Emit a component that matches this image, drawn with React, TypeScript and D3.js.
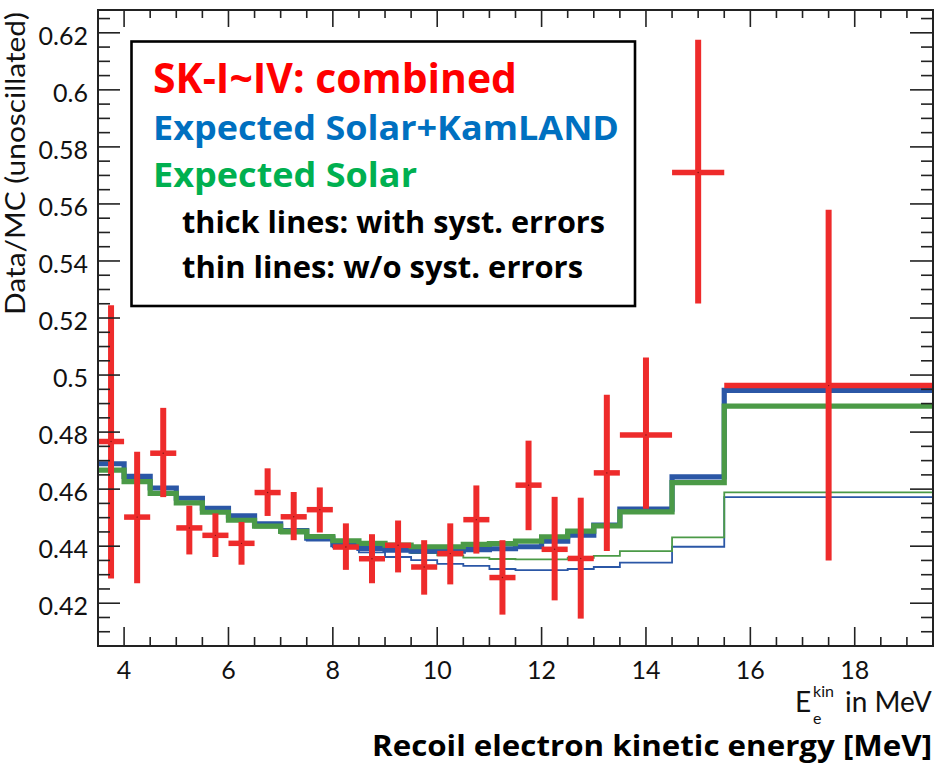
import React from 'react';
import * as d3 from 'd3';

// Energy bin edges (MeV): 0.5 MeV bins up to 13.5, then 1 MeV bins and one wide bin
const binEdges = [3.5, 4, 4.5, 5, 5.5, 6, 6.5, 7, 7.5, 8, 8.5, 9, 9.5, 10, 10.5, 11, 11.5, 12, 12.5, 13, 13.5, 14.5, 15.5, 19.5];

// SK-I~IV combined Data/MC ratio with total uncertainty range
const dataValue = [0.4767, 0.4502, 0.4726, 0.4464, 0.4438, 0.4410, 0.4588, 0.4503, 0.4528, 0.4397, 0.4356, 0.4403, 0.4327, 0.4374, 0.4493, 0.4290, 0.4614, 0.4389, 0.4357, 0.4657, 0.4790, 0.5710, 0.4963];
const dataHigh = [0.5245, 0.4731, 0.4885, 0.4542, 0.4515, 0.4485, 0.4673, 0.4590, 0.4606, 0.4480, 0.4442, 0.4490, 0.4421, 0.4480, 0.4613, 0.4421, 0.4770, 0.4573, 0.4570, 0.4931, 0.5062, 0.6176, 0.5580];
const dataLow = [0.4287, 0.4270, 0.4572, 0.4371, 0.4362, 0.4335, 0.4506, 0.4421, 0.4448, 0.4317, 0.4270, 0.4308, 0.4230, 0.4266, 0.4374, 0.4160, 0.4456, 0.4210, 0.4146, 0.4383, 0.4531, 0.5251, 0.4350];

// Expected spectra, with energy-correlated systematic errors (thick)
const solarKamlandSyst = [0.4689, 0.4645, 0.4604, 0.4568, 0.4533, 0.4506, 0.4478, 0.4455, 0.4428, 0.4405, 0.4392, 0.4386, 0.4383, 0.4383, 0.4388, 0.4391, 0.4398, 0.4418, 0.4439, 0.4474, 0.4530, 0.4643, 0.4946];
const solarSyst = [0.4667, 0.4626, 0.4585, 0.4552, 0.4519, 0.4491, 0.4470, 0.4452, 0.4434, 0.4419, 0.4410, 0.4404, 0.4398, 0.4398, 0.4406, 0.4409, 0.4418, 0.4433, 0.4453, 0.4471, 0.4520, 0.4623, 0.4891];

// Expected spectra without systematic errors (thin)
const solarKamlandStat = [0.4689, 0.4645, 0.4603, 0.4566, 0.4530, 0.4502, 0.4473, 0.4446, 0.4420, 0.4396, 0.4378, 0.4362, 0.4351, 0.4338, 0.4331, 0.4320, 0.4316, 0.4316, 0.4320, 0.4327, 0.4342, 0.4398, 0.4572];
const solarStat = [0.4667, 0.4626, 0.4585, 0.4550, 0.4517, 0.4488, 0.4465, 0.4444, 0.4425, 0.4408, 0.4395, 0.4385, 0.4376, 0.4368, 0.4360, 0.4355, 0.4354, 0.4354, 0.4359, 0.4366, 0.4383, 0.4431, 0.4589];

const xTickValues = [4, 6, 8, 10, 12, 14, 16, 18];
const yTickValues = [0.42, 0.44, 0.46, 0.48, 0.5, 0.52, 0.54, 0.56, 0.58, 0.6, 0.62];

const legendTexts = ['SK-I~IV: combined', 'Expected Solar+KamLAND', 'Expected Solar', 'thick lines: with syst. errors', 'thin lines: w/o syst. errors'];
const legendColors = ['#ff0000', '#0070c0', '#00b050', '#000000', '#000000'];

const RED = '#ee2b2b';
const BLUE = '#2b57a6';
const GREEN = '#4b9a47';
const FONT = 'Lato, "Open Sans", sans-serif';
const BOLD_FONT = '"Open Sans", Lato, sans-serif';

export default function App() {
  const left = 98, right = 933, top = 10, bottom = 646;
  const x = d3.scaleLinear().domain([3.5, 19.5]).range([left, right]);
  const y = d3.scaleLinear().domain([0.405, 0.628]).range([bottom, top]);

  const step = d3.line<[number, number]>().curve(d3.curveStepAfter);
  const histPath = (vals: number[]) =>
    step(binEdges.map((e, i) => [x(e), y(vals[Math.min(i, vals.length - 1)])] as [number, number])) || '';

  const xMinor = d3.range(4, 19.5 + 1e-9, 0.5).filter((v) => Math.abs(v / 2 - Math.round(v / 2)) > 1e-6);
  const yMinor = d3.range(0.405, 0.628, 0.005).filter((v) => Math.abs(v / 0.02 - Math.round(v / 0.02)) > 1e-4);

  const axisColor = '#222';

  return (
    <svg width={935} height={763} style={{ position: 'absolute', left: 0, top: 0, background: '#fff' }}>
      <defs>
        <clipPath id="plotArea">
          <rect x={left} y={top} width={right - left} height={bottom - top} />
        </clipPath>
      </defs>
      <rect x={0} y={0} width={935} height={763} fill="#fff" />

      {/* expected spectra */}
      <g clipPath="url(#plotArea)" fill="none" strokeLinejoin="miter" strokeLinecap="butt">
        <path d={histPath(solarKamlandStat)} stroke={BLUE} strokeWidth={1.8} />
        <path d={histPath(solarStat)} stroke={GREEN} strokeWidth={1.8} />
        <path d={histPath(solarKamlandSyst)} stroke={BLUE} strokeWidth={5.2} />
        <path d={histPath(solarSyst)} stroke={GREEN} strokeWidth={5.2} />
      </g>

      {/* data points */}
      <g clipPath="url(#plotArea)">
        {dataValue.map((v, i) => {
          const x0 = x(binEdges[i]);
          const x1 = x(binEdges[i + 1]);
          const xc = (x0 + x1) / 2;
          return (
            <g key={i}>
              <line x1={xc} x2={xc} y1={y(dataHigh[i])} y2={y(dataLow[i])} stroke={RED} strokeWidth={6} />
              <line x1={x0} x2={x1} y1={y(v)} y2={y(v)} stroke={RED} strokeWidth={5.5} />
              <circle cx={xc} cy={y(v)} r={0.7} fill="#7a1010" />
            </g>
          );
        })}
      </g>

      {/* frame */}
      <rect x={left} y={top} width={right - left} height={bottom - top} fill="none" stroke={axisColor} strokeWidth={2} />

      {/* y ticks, left and right; x ticks, bottom and top */}
      <g stroke={axisColor} strokeWidth={1.6}>
        {yTickValues.map((v) => (
          <g key={'ym' + v}>
            <line x1={left} x2={left + 22} y1={y(v)} y2={y(v)} />
            <line x1={right} x2={right - 23} y1={y(v)} y2={y(v)} />
          </g>
        ))}
        {yMinor.map((v) => (
          <g key={'yn' + v}>
            <line x1={left} x2={left + 12} y1={y(v)} y2={y(v)} />
            <line x1={right} x2={right - 12} y1={y(v)} y2={y(v)} />
          </g>
        ))}
        {xTickValues.map((v) => (
          <g key={'xm' + v}>
            <line x1={x(v)} x2={x(v)} y1={bottom} y2={bottom - 19} />
            <line x1={x(v)} x2={x(v)} y1={top} y2={top + 17} />
          </g>
        ))}
        {xMinor.map((v) => (
          <g key={'xn' + v}>
            <line x1={x(v)} x2={x(v)} y1={bottom} y2={bottom - 9} />
            <line x1={x(v)} x2={x(v)} y1={top} y2={top + 8} />
          </g>
        ))}
      </g>

      {/* tick labels */}
      <g fontFamily={FONT} fontSize={25} fill="#111">
        {yTickValues.map((v) => (
          <text key={'yl' + v} x={88} y={y(v) + 12} textAnchor="end">
            {d3.format('~g')(v)}
          </text>
        ))}
        {xTickValues.map((v) => (
          <text key={'xl' + v} x={x(v)} y={679} textAnchor="middle">
            {v}
          </text>
        ))}
      </g>

      {/* axis titles */}
      <text
        transform="translate(25,315) rotate(-90)"
        fontFamily={FONT}
        fontSize={26}
        fill="#111"
        textLength={303}
        lengthAdjust="spacingAndGlyphs"
      >
        Data/MC (unoscillated)
      </text>

      <text x={795} y={712} fontFamily={FONT} fontSize={28} fill="#111">
        E
        <tspan x={813} dy={12} fontSize={16}>e</tspan>
        <tspan x={813} dy={-27} fontSize={16}>kin</tspan>
        <tspan x={845} dy={15} fontSize={28}>in MeV</tspan>
      </text>

      <text
        x={372}
        y={756}
        fontFamily={BOLD_FONT}
        fontWeight="bold"
        fontSize={28}
        fill="#000"
        textLength={560}
        lengthAdjust="spacingAndGlyphs"
      >
        Recoil electron kinetic energy [MeV]
      </text>

      {/* legend */}
      <rect x={131.5} y={41.5} width={503.5} height={264.5} fill="#fff" stroke="#000" strokeWidth={2.6} />
      <g fontFamily={BOLD_FONT} fontWeight="bold">
        <text x={153} y={93} fontSize={42} fill={legendColors[0]} textLength={364} lengthAdjust="spacingAndGlyphs">{legendTexts[0]}</text>
        <text x={153} y={140} fontSize={34} fill={legendColors[1]} textLength={466} lengthAdjust="spacingAndGlyphs">{legendTexts[1]}</text>
        <text x={153} y={187} fontSize={34} fill={legendColors[2]} textLength={264} lengthAdjust="spacingAndGlyphs">{legendTexts[2]}</text>
        <text x={182} y={233} fontSize={30} fill={legendColors[3]} textLength={423} lengthAdjust="spacingAndGlyphs">{legendTexts[3]}</text>
        <text x={182} y={278} fontSize={30} fill={legendColors[4]} textLength={401} lengthAdjust="spacingAndGlyphs">{legendTexts[4]}</text>
      </g>
    </svg>
  );
}
